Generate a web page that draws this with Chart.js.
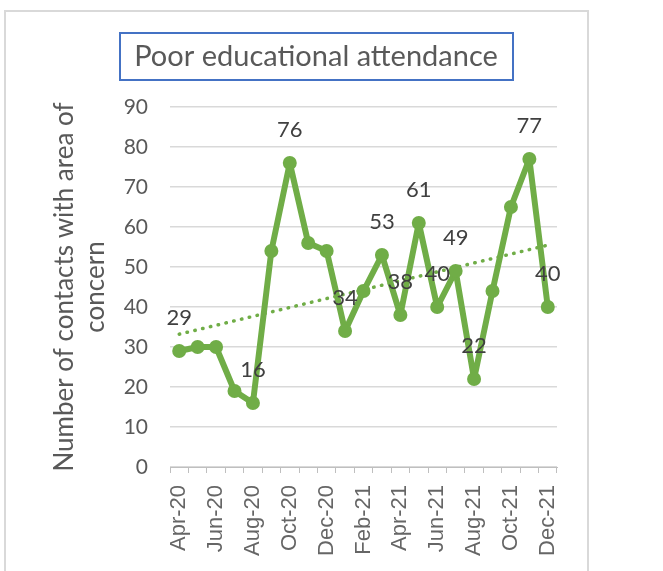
<!DOCTYPE html>
<html>
<head>
<meta charset="utf-8">
<script src="https://cdn.jsdelivr.net/npm/chart.js@4/dist/chart.umd.min.js"></script>
<style>
  html, body { margin: 0; padding: 0; background: #ffffff; }
  #wrap { width: 663px; height: 571px; }
</style>
</head>
<body>
<div id="wrap"><canvas id="c" width="663" height="571"></canvas></div>
<script>
const chartTitle = 'Poor educational attendance';
const yAxisTitle = ['Number of contacts with area of', 'concern'];
const months = ['Apr-20','May-20','Jun-20','Jul-20','Aug-20','Sep-20','Oct-20','Nov-20','Dec-20',
                'Jan-21','Feb-21','Mar-21','Apr-21','May-21','Jun-21','Jul-21','Aug-21','Sep-21',
                'Oct-21','Nov-21','Dec-21'];
const contacts = [29,30,30,19,16,54,76,56,54,34,44,53,38,61,40,49,22,44,65,77,40];
const labelledMonths = ['Apr-20','Aug-20','Oct-20','Jan-21','Mar-21','Apr-21','May-21','Jun-21',
                        'Jul-21','Aug-21','Nov-21','Dec-21'];
const tickLabels = ['Apr-20','Jun-20','Aug-20','Oct-20','Dec-20','Feb-21','Apr-21','Jun-21',
                    'Aug-21','Oct-21','Dec-21'];
const yMin = 0, yMax = 90, yStep = 10;

// Linear trendline (least squares) through the series, as Excel's trendline does
const n = contacts.length;
const meanX = (n - 1) / 2;
const meanY = contacts.reduce((a, b) => a + b, 0) / n;
let sxy = 0, sxx = 0;
contacts.forEach((v, i) => { sxy += (i - meanX) * (v - meanY); sxx += (i - meanX) * (i - meanX); });
const slope = sxy / sxx;
const trend = contacts.map((v, i) => meanY + slope * (i - meanX));

const GREEN = '#70AD47';
const TEXT = '#595959';

const framePlugin = {
  id: 'frame',
  beforeDraw(chart) {
    const ctx = chart.ctx;
    ctx.save();
    ctx.fillStyle = '#ffffff';
    ctx.fillRect(0, 0, chart.width, chart.height);
    ctx.strokeStyle = '#d9d9d9';
    ctx.lineWidth = 2;
    ctx.strokeRect(5, 11, 583, 620);
    ctx.restore();
  },
  afterDraw(chart) {
    const ctx = chart.ctx;
    ctx.save();
    ctx.font = '29px Lato';
    ctx.fillStyle = TEXT;
    ctx.textAlign = 'center';
    ctx.textBaseline = 'middle';
    ctx.fillText(chartTitle, 316, 57);
    ctx.strokeStyle = '#4472C4';
    ctx.lineWidth = 2;
    ctx.strokeRect(120, 33, 393, 47);
    ctx.restore();
  }
};

const labelPlugin = {
  id: 'pointLabels',
  afterDatasetsDraw(chart) {
    const ctx = chart.ctx;
    const meta = chart.getDatasetMeta(0);
    ctx.save();
    ctx.font = '22px Lato';
    ctx.fillStyle = '#404040';
    ctx.textAlign = 'center';
    ctx.textBaseline = 'middle';
    months.forEach((m, i) => {
      if (!labelledMonths.includes(m)) return;
      const p = meta.data[i];
      ctx.fillText(String(contacts[i]), p.x, p.y - 33);
    });
    ctx.restore();
  }
};

new Chart(document.getElementById('c'), {
  type: 'line',
  data: {
    labels: months,
    datasets: [
      {
        data: contacts,
        borderColor: GREEN,
        backgroundColor: GREEN,
        borderWidth: 6,
        pointRadius: 7,
        pointBorderWidth: 0,
        pointBackgroundColor: GREEN,
        tension: 0,
        borderJoinStyle: 'round'
      },
      {
        data: trend,
        borderColor: GREEN,
        borderWidth: 3.5,
        borderDash: [0.5, 7.5],
        borderCapStyle: 'round',
        pointRadius: 0,
        tension: 0
      }
    ]
  },
  options: {
    responsive: false,
    animation: false,
    devicePixelRatio: 1,
    layout: { padding: { left: 0, top: 107, right: 106, bottom: 0 } },
    plugins: { legend: { display: false }, tooltip: { enabled: false }, title: { display: false } },
    scales: {
      x: {
        offset: true,
        grid: { offset: true, drawOnChartArea: false, drawTicks: true, tickLength: 6, color: '#bfbfbf', lineWidth: 1 },
        border: { display: true, color: '#bfbfbf', width: 1 },
        ticks: {
          autoSkip: false,
          minRotation: 90,
          maxRotation: 90,
          padding: 12,
          color: '#666666',
          font: { family: 'Liberation Sans', size: 22 },
          callback: (v, i) => tickLabels.includes(months[i]) ? months[i] : ''
        },
        afterFit: s => { s.height = 104; }
      },
      y: {
        min: yMin,
        max: yMax,
        ticks: { stepSize: yStep, padding: 22, color: TEXT, font: { family: 'Lato', size: 21 } },
        grid: { color: '#d9d9d9', lineWidth: 1.5, drawTicks: false },
        border: { display: false },
        title: {
          display: true,
          text: yAxisTitle,
          color: TEXT,
          font: { family: 'Lato', size: 26 },
          padding: { top: 49, bottom: 0 }
        },
        afterFit: s => { s.width = 170; }
      }
    }
  },
  plugins: [framePlugin, labelPlugin]
});
</script>
</body>
</html>
